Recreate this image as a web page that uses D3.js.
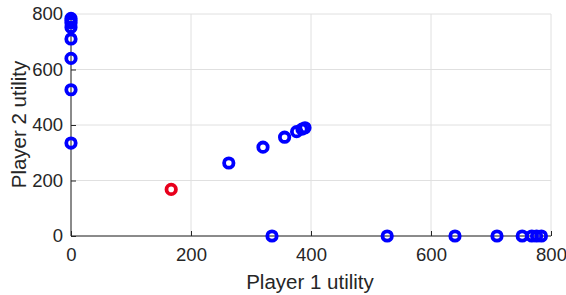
<!DOCTYPE html>
<html>
<head>
<meta charset="utf-8">
<script src="https://cdn.jsdelivr.net/npm/d3@7"></script>
<style>
	body { margin: 0; background: #fff; }
	svg { display: block; font-family: 'Liberation Sans', Arial, sans-serif; }
</style>
</head>
<body>
<script>
// outcomes on the axes (one player gets nothing)
const edgeValues = [335, 527, 640, 710, 752, 768, 776, 784]
// compromise outcomes on the diagonal
const diagValues = [263, 320, 356, 376, 385, 390]
// the highlighted outcome
const redPoint = [167, 168]
const ticks = [0, 200, 400, 600, 800]

const blue = edgeValues.map(v => [0, v])
	.concat(edgeValues.map(v => [v, 0]))
	.concat(diagValues.map(v => [v, v]))

const width = 566, height = 295
const svg = d3.select('body').append('svg').attr('width', width).attr('height', height)
const x = d3.scaleLinear().domain([0, 800]).range([71, 551])
const y = d3.scaleLinear().domain([0, 800]).range([236, 14])
const ink = '#262626'

const g = svg.append('g')
// grid
g.selectAll('line.gx').data(ticks).join('line').classed('gx', true)
	.attr('x1', d => x(d)).attr('x2', d => x(d)).attr('y1', y(0)).attr('y2', y(800))
	.attr('stroke', '#e0e0e0')
g.selectAll('line.gy').data(ticks).join('line').classed('gy', true)
	.attr('y1', d => y(d)).attr('y2', d => y(d)).attr('x1', x(0)).attr('x2', x(800))
	.attr('stroke', '#e0e0e0')

// axes, ticks inward
const xAxis = g.append('g').attr('transform', `translate(0,${y(0)})`)
	.call(d3.axisBottom(x).tickValues(ticks).tickSizeInner(-5).tickSizeOuter(0).tickPadding(12))
const yAxis = g.append('g').attr('transform', `translate(${x(0)},0)`)
	.call(d3.axisLeft(y).tickValues(ticks).tickSizeInner(-5).tickSizeOuter(0).tickPadding(8))
for (const a of [xAxis, yAxis]) {
	a.selectAll('path, line').attr('stroke', ink)
	a.selectAll('text').attr('fill', ink).style('font-size', '18.5px')
}
xAxis.select('.domain').attr('d', `M${x(0)},0H${x(800)}`)
yAxis.select('.domain').attr('d', `M0,${y(0)}V${y(800)}`)

// points
g.selectAll('circle.blue').data(blue).join('circle').classed('blue', true)
	.attr('cx', d => x(d[0])).attr('cy', d => y(d[1])).attr('r', 4.7)
	.attr('fill', 'none').attr('stroke', '#0000ff').attr('stroke-width', 3.8)
g.append('circle')
	.attr('cx', x(redPoint[0])).attr('cy', y(redPoint[1])).attr('r', 4.7)
	.attr('fill', 'none').attr('stroke', '#e8001c').attr('stroke-width', 3.8)

// labels
svg.append('text').attr('x', 310).attr('y', 289).attr('text-anchor', 'middle')
	.attr('fill', ink).style('font-size', '20.5px').text('Player 1 utility')
svg.append('text').attr('transform', 'translate(26,124.5) rotate(-90)')
	.attr('text-anchor', 'middle').attr('fill', ink).style('font-size', '20.5px').text('Player 2 utility')
</script>
</body>
</html>
